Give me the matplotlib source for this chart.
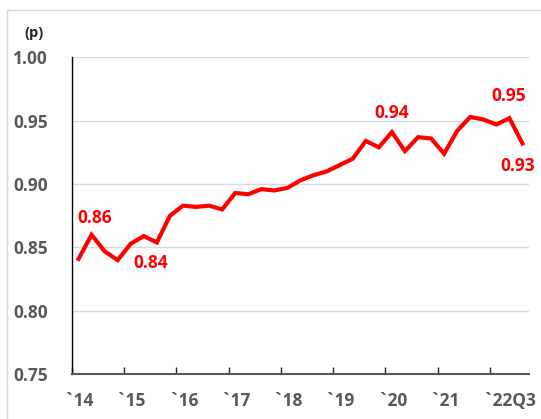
import matplotlib
matplotlib.use("Agg")
import matplotlib.pyplot as plt
from matplotlib.lines import Line2D
import numpy as np

# Quarterly values 2014Q1 .. 2022Q3
values = [0.841, 0.860, 0.847, 0.840, 0.853, 0.859, 0.854, 0.875, 0.883, 0.882,
          0.883, 0.880, 0.893, 0.892, 0.896, 0.895, 0.897, 0.903, 0.907, 0.910,
          0.915, 0.920, 0.934, 0.929, 0.941, 0.926, 0.937, 0.936, 0.924, 0.942,
          0.953, 0.951, 0.947, 0.952, 0.932]
year_labels = ["`14", "`15", "`16", "`17", "`18", "`19", "`20", "`21", "`22Q3"]
label_pos = [0, 4, 8, 12, 16, 20, 24, 28, 33]
yticks = [0.75, 0.80, 0.85, 0.90, 0.95, 1.00]
annot_idx = [1, 3, 24, 33, 34]
annot_text = ["0.86", "0.84", "0.94", "0.95", "0.93"]
annot_off = [(3.5, 17), (33, -3), (0, 19), (-1, 22), (-4.7, -22.7)]

W, H = 541, 419
fig = plt.figure(figsize=(W / 100, H / 100), dpi=100)
ax = fig.add_axes([72 / W, 1 - 374.3 / H, (529 - 72) / W, (374.3 - 57.3) / H])

x = np.arange(len(values))
ax.plot(x, values, color="#ff0000", lw=3.0, solid_joinstyle="miter", zorder=3)

ax.set_xlim(-0.5, len(values) - 0.5)
ax.set_ylim(0.75, 1.00)
ax.set_yticks(yticks)
ax.set_yticklabels([f"{v:.2f}" for v in yticks], fontsize=12.5, fontweight="bold",
                   color="#595959", family="Open Sans")
ax.tick_params(axis="y", length=0, pad=17.3)
ax.set_xticks(np.arange(-0.5, 32, 4))
ax.set_xticklabels([])
ax.tick_params(axis="x", direction="in", length=5, width=1, color="#262626")

for v in yticks[1:]:
    ax.axhline(v, color="#d9d9d9", lw=1, zorder=1)

for s in ["top", "right"]:
    ax.spines[s].set_visible(False)
ax.spines["left"].set_color("#000000")
ax.spines["left"].set_linewidth(1)
ax.spines["bottom"].set_color("#595959")
ax.spines["bottom"].set_linewidth(1.5)

for p, t in zip(label_pos, year_labels):
    ax.annotate(t, (p, 0.75), xytext=(0, -27), textcoords="offset pixels",
                ha="center", va="center", fontsize=12.5, fontweight="bold",
                color="#595959", family="Open Sans", annotation_clip=False)

for i, t, (dx, dy) in zip(annot_idx, annot_text, annot_off):
    ax.annotate(t, (i, values[i]), xytext=(dx, dy), textcoords="offset pixels",
                ha="center", va="center", fontsize=12.5, fontweight="bold",
                color="#ff0000", family="Open Sans", annotation_clip=False)

fig.text(34 / W, 1 - 33 / H, "(p)", ha="center", va="center", fontsize=10.5,
         fontweight="bold", color="#262626", family="Open Sans")

fig.add_artist(Line2D([7 / W, 1], [1 - 10 / H, 1 - 10 / H], color="#d9d9d9", lw=1,
                      transform=fig.transFigure))
fig.add_artist(Line2D([7 / W, 7 / W], [1 - 10 / H, 0], color="#d9d9d9", lw=1,
                      transform=fig.transFigure))

fig.savefig("out.png", dpi=100)
